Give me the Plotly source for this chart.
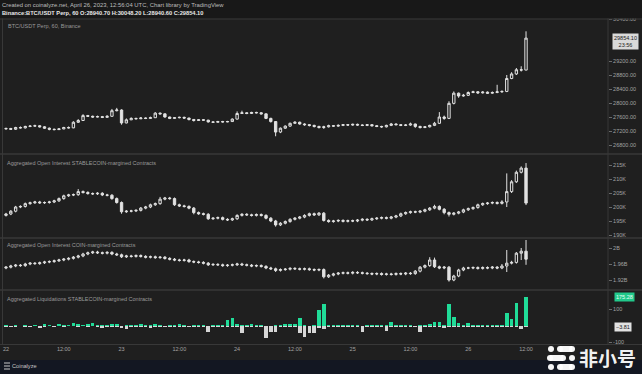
import plotly.graph_objects as go
import pandas as pd

# ---------------- data ----------------
TIMES = pd.date_range("2023-04-22 00:00", periods=109, freq="h")

PRICE_OPEN = [27260, 27270, 27250, 27300, 27290, 27330, 27340, 27350, 27320, 27280,
              27250, 27240, 27260, 27300, 27290, 27450, 27500, 27640, 27620, 27600,
              27610, 27590, 27620, 27780, 27800, 27430, 27520, 27560, 27550, 27570,
              27560, 27580, 27710, 27690, 27600, 27560, 27580, 27590, 27570, 27530,
              27500, 27520, 27510, 27460, 27450, 27470, 27460, 27470, 27540, 27700,
              27720, 27700, 27730, 27720, 27690, 27560, 27470, 27170, 27280, 27340,
              27420, 27450, 27400, 27380, 27360, 27330, 27300, 27320, 27350, 27340,
              27360, 27380, 27370, 27390, 27370, 27360, 27380, 27350, 27330, 27320,
              27360, 27400, 27380, 27360, 27370, 27400, 27330, 27300, 27320, 27360,
              27420, 27600, 27560, 27990, 28280, 28200, 28220, 28300, 28320, 28290,
              28310, 28280, 28300, 28320, 28330, 28700, 28830, 28950, 28940.7]
PRICE_HIGH = [27300, 27290, 27320, 27330, 27350, 27370, 27380, 27370, 27340, 27300,
              27270, 27280, 27320, 27330, 27480, 27540, 27680, 27660, 27640, 27640,
              27630, 27650, 27830, 27860, 27820, 27560, 27590, 27580, 27600, 27590,
              27610, 27740, 27730, 27700, 27610, 27600, 27610, 27610, 27580, 27540,
              27540, 27540, 27520, 27480, 27490, 27490, 27490, 27560, 27760, 27780,
              27740, 27750, 27750, 27740, 27700, 27580, 27480, 27300, 27360, 27440,
              27480, 27470, 27420, 27400, 27380, 27350, 27350, 27380, 27370, 27390,
              27400, 27400, 27410, 27410, 27390, 27400, 27400, 27370, 27350, 27380,
              27430, 27420, 27400, 27400, 27440, 27410, 27350, 27340, 27380, 27460,
              27740, 27640, 28050, 28330, 28300, 28260, 28330, 28350, 28340, 28340,
              28330, 28330, 28520, 28360, 28800, 28880, 29000, 29050, 30048.2]
PRICE_LOW = [27240, 27230, 27230, 27270, 27270, 27310, 27320, 27300, 27260, 27220,
             27220, 27230, 27250, 27270, 27280, 27430, 27490, 27600, 27580, 27590,
             27570, 27580, 27610, 27760, 27380, 27420, 27510, 27530, 27540, 27540,
             27550, 27570, 27670, 27580, 27540, 27550, 27560, 27550, 27500, 27470,
             27490, 27490, 27440, 27430, 27440, 27440, 27450, 27460, 27530, 27690,
             27680, 27690, 27700, 27670, 27540, 27440, 27050, 27140, 27260, 27320,
             27400, 27380, 27350, 27330, 27300, 27270, 27260, 27300, 27320, 27320,
             27340, 27350, 27350, 27350, 27340, 27340, 27330, 27310, 27290, 27300,
             27340, 27360, 27340, 27340, 27350, 27290, 27270, 27280, 27300, 27340,
             27400, 27520, 27540, 27960, 28150, 28180, 28200, 28280, 28260, 28270,
             28260, 28260, 28280, 28290, 28310, 28680, 28800, 28900, 28940.6]
PRICE_CLOSE = [27270, 27250, 27300, 27290, 27330, 27340, 27350, 27320, 27280, 27250,
               27240, 27260, 27300, 27290, 27450, 27500, 27640, 27620, 27600, 27610,
               27590, 27620, 27780, 27800, 27430, 27520, 27560, 27550, 27570, 27560,
               27580, 27710, 27690, 27600, 27560, 27580, 27590, 27570, 27530, 27500,
               27520, 27510, 27460, 27450, 27470, 27460, 27470, 27540, 27700, 27720,
               27700, 27730, 27720, 27690, 27560, 27470, 27170, 27280, 27340, 27420,
               27450, 27400, 27380, 27360, 27330, 27300, 27320, 27350, 27340, 27360,
               27380, 27370, 27390, 27370, 27360, 27380, 27350, 27330, 27320, 27360,
               27400, 27380, 27360, 27370, 27400, 27330, 27300, 27320, 27360, 27420,
               27600, 27560, 27990, 28280, 28200, 28220, 28300, 28320, 28290, 28310,
               28280, 28300, 28320, 28330, 28700, 28830, 28950, 28940.7, 29854.1]

# Aggregated OI, stablecoin-margined (thousands)
OIS_OPEN = [197.0, 197.5, 198.5, 200.0, 200.2, 201.2, 201.5, 201.8, 201.5, 201.6,
            201.8, 202.2, 203.0, 204.0, 204.3, 204.4, 205.5, 205.2, 204.8, 204.7,
            204.9, 204.3, 204.2, 203.0, 201.6, 198.3, 198.5, 198.6, 198.8, 199.6,
            200.0, 200.8, 201.2, 202.8, 203.2, 203.0, 200.8, 200.4, 200.2, 199.6,
            198.0, 197.6, 197.4, 195.8, 196.0, 196.2, 195.6, 195.4, 195.8, 197.0,
            197.4, 197.2, 197.0, 197.3, 197.0, 196.0, 195.0, 193.6, 194.2, 194.8,
            195.6, 196.0, 196.4, 197.0, 197.6, 197.2, 197.8, 195.2, 194.8, 195.0,
            195.2, 194.9, 195.1, 195.0, 195.3, 195.6, 195.4, 195.8, 196.0, 196.2,
            196.0, 196.4, 196.8, 197.6, 198.0, 198.3, 198.2, 198.5, 199.0, 199.6,
            200.2, 199.2, 198.0, 197.4, 197.8, 198.2, 199.0, 199.4, 199.8, 200.8,
            201.2, 201.4, 201.6, 201.3, 201.8, 205.5, 209.0, 212.4, 213.9]
OIS_HIGH = [197.9, 198.9, 200.4, 200.6, 201.6, 201.9, 202.2, 202.2, 202.0, 202.2,
            202.6, 203.4, 204.4, 204.7, 204.8, 206.4, 205.9, 205.6, 205.2, 205.3,
            205.3, 204.7, 204.6, 203.4, 202.0, 198.9, 199.0, 199.2, 200.0, 200.4,
            201.2, 201.6, 203.6, 203.6, 203.6, 203.4, 201.2, 200.8, 200.6, 200.0,
            198.4, 198.0, 197.8, 196.4, 196.6, 196.6, 196.0, 196.2, 197.4, 197.8,
            197.8, 197.6, 197.7, 197.7, 197.4, 196.4, 195.4, 194.6, 195.2, 196.0,
            196.4, 196.8, 197.4, 198.0, 198.0, 198.2, 198.2, 195.6, 195.4, 195.6,
            195.6, 195.5, 195.5, 195.7, 196.0, 196.0, 196.2, 196.4, 196.6, 196.6,
            196.8, 197.2, 198.0, 198.4, 198.7, 198.7, 198.9, 199.4, 200.0, 200.8,
            200.6, 199.6, 198.4, 198.2, 198.6, 199.4, 199.8, 200.2, 201.2, 201.6,
            201.8, 202.0, 202.0, 202.4, 212.0, 209.6, 213.0, 214.5, 215.7]
OIS_LOW = [196.6, 197.1, 198.1, 199.6, 199.8, 200.8, 201.1, 201.1, 201.1, 201.2,
           201.4, 201.8, 202.6, 203.6, 203.9, 204.0, 204.8, 204.4, 204.3, 204.3,
           203.9, 203.8, 202.6, 201.2, 197.6, 197.9, 198.1, 198.2, 198.4, 199.2,
           199.6, 200.4, 200.8, 202.4, 202.6, 200.4, 200.0, 199.8, 199.2, 197.4,
           197.2, 197.0, 195.4, 195.4, 195.6, 195.2, 195.0, 195.0, 195.4, 196.6,
           196.8, 196.6, 196.6, 196.6, 195.6, 194.6, 193.0, 193.2, 193.8, 194.4,
           195.2, 195.6, 196.0, 196.6, 196.8, 196.8, 194.8, 194.4, 194.4, 194.6,
           194.5, 194.5, 194.6, 194.6, 194.9, 195.0, 195.0, 195.4, 195.6, 195.6,
           195.6, 196.0, 196.4, 197.2, 197.6, 197.8, 197.8, 198.1, 198.6, 199.2,
           198.8, 197.4, 196.6, 197.0, 197.4, 197.8, 198.6, 199.0, 199.4, 200.4,
           200.8, 201.0, 200.9, 200.9, 200.0, 205.0, 208.6, 212.0, 200.7]
OIS_CLOSE = [197.5, 198.5, 200.0, 200.2, 201.2, 201.5, 201.8, 201.5, 201.6, 201.8,
             202.2, 203.0, 204.0, 204.3, 204.4, 205.5, 205.2, 204.8, 204.7, 204.9,
             204.3, 204.2, 203.0, 201.6, 198.3, 198.5, 198.6, 198.8, 199.6, 200.0,
             200.8, 201.2, 202.8, 203.2, 203.0, 200.8, 200.4, 200.2, 199.6, 198.0,
             197.6, 197.4, 195.8, 196.0, 196.2, 195.6, 195.4, 195.8, 197.0, 197.4,
             197.2, 197.0, 197.3, 197.0, 196.0, 195.0, 193.6, 194.2, 194.8, 195.6,
             196.0, 196.4, 197.0, 197.6, 197.2, 197.8, 195.2, 194.8, 195.0, 195.2,
             194.9, 195.1, 195.0, 195.3, 195.6, 195.4, 195.8, 196.0, 196.2, 196.0,
             196.4, 196.8, 197.6, 198.0, 198.3, 198.2, 198.5, 199.0, 199.6, 200.2,
             199.2, 198.0, 197.4, 197.8, 198.2, 199.0, 199.4, 199.8, 200.8, 201.2,
             201.4, 201.6, 201.3, 201.8, 205.5, 209.0, 212.4, 213.9, 201.4]

# Aggregated OI, coin-margined (billions)
OIC_OPEN = [1.950, 1.952, 1.955, 1.957, 1.956, 1.960, 1.962, 1.961, 1.963, 1.965,
            1.966, 1.968, 1.970, 1.972, 1.974, 1.977, 1.980, 1.985, 1.988, 1.990,
            1.988, 1.987, 1.989, 1.985, 1.983, 1.978, 1.980, 1.979, 1.981, 1.979,
            1.977, 1.978, 1.976, 1.977, 1.974, 1.972, 1.970, 1.969, 1.970, 1.966,
            1.965, 1.964, 1.962, 1.958, 1.959, 1.958, 1.956, 1.957, 1.958, 1.960,
            1.958, 1.957, 1.955, 1.956, 1.954, 1.950, 1.948, 1.944, 1.946, 1.947,
            1.949, 1.948, 1.947, 1.948, 1.946, 1.945, 1.946, 1.928, 1.932, 1.935,
            1.937, 1.938, 1.937, 1.939, 1.938, 1.937, 1.936, 1.935, 1.936, 1.934,
            1.935, 1.934, 1.936, 1.935, 1.937, 1.936, 1.942, 1.952, 1.956, 1.970,
            1.953, 1.950, 1.952, 1.920, 1.930, 1.945, 1.950, 1.950, 1.951, 1.949,
            1.951, 1.950, 1.952, 1.950, 1.955, 1.962, 1.964, 1.987, 1.992]
OIC_HIGH = [1.955, 1.958, 1.960, 1.960, 1.963, 1.965, 1.965, 1.966, 1.968, 1.969,
            1.971, 1.973, 1.975, 1.977, 1.980, 1.983, 1.988, 1.991, 1.993, 1.993,
            1.991, 1.992, 1.992, 1.988, 1.986, 1.983, 1.983, 1.984, 1.984, 1.982,
            1.981, 1.981, 1.980, 1.980, 1.977, 1.975, 1.973, 1.973, 1.973, 1.969,
            1.968, 1.967, 1.965, 1.962, 1.962, 1.961, 1.960, 1.961, 1.963, 1.963,
            1.961, 1.960, 1.959, 1.959, 1.957, 1.953, 1.951, 1.949, 1.950, 1.952,
            1.952, 1.951, 1.951, 1.951, 1.949, 1.949, 1.949, 1.935, 1.938, 1.940,
            1.941, 1.941, 1.942, 1.942, 1.941, 1.940, 1.939, 1.939, 1.939, 1.938,
            1.938, 1.939, 1.939, 1.940, 1.940, 1.945, 1.955, 1.959, 1.977, 1.976,
            1.956, 1.955, 1.955, 1.933, 1.948, 1.953, 1.953, 1.954, 1.954, 1.954,
            1.954, 1.955, 1.955, 1.960, 1.995, 1.968, 1.990, 2.000, 2.020]
OIC_LOW = [1.947, 1.949, 1.952, 1.953, 1.953, 1.957, 1.958, 1.958, 1.960, 1.962,
           1.963, 1.965, 1.967, 1.969, 1.971, 1.974, 1.977, 1.982, 1.985, 1.985,
           1.984, 1.984, 1.982, 1.980, 1.975, 1.975, 1.976, 1.976, 1.976, 1.974,
           1.974, 1.973, 1.973, 1.971, 1.969, 1.967, 1.966, 1.966, 1.963, 1.962,
           1.961, 1.959, 1.955, 1.955, 1.955, 1.953, 1.953, 1.954, 1.955, 1.955,
           1.954, 1.952, 1.952, 1.951, 1.947, 1.945, 1.940, 1.941, 1.943, 1.944,
           1.945, 1.944, 1.944, 1.943, 1.942, 1.942, 1.924, 1.925, 1.929, 1.932,
           1.934, 1.934, 1.934, 1.935, 1.934, 1.933, 1.932, 1.932, 1.931, 1.931,
           1.931, 1.931, 1.932, 1.932, 1.933, 1.933, 1.939, 1.949, 1.953, 1.950,
           1.947, 1.947, 1.916, 1.917, 1.927, 1.942, 1.947, 1.947, 1.946, 1.946,
           1.947, 1.947, 1.947, 1.947, 1.940, 1.959, 1.961, 1.970, 1.958]
OIC_CLOSE = [1.952, 1.955, 1.957, 1.956, 1.960, 1.962, 1.961, 1.963, 1.965, 1.966,
             1.968, 1.970, 1.972, 1.974, 1.977, 1.980, 1.985, 1.988, 1.990, 1.988,
             1.987, 1.989, 1.985, 1.983, 1.978, 1.980, 1.979, 1.981, 1.979, 1.977,
             1.978, 1.976, 1.977, 1.974, 1.972, 1.970, 1.969, 1.970, 1.966, 1.965,
             1.964, 1.962, 1.958, 1.959, 1.958, 1.956, 1.957, 1.958, 1.960, 1.958,
             1.957, 1.955, 1.956, 1.954, 1.950, 1.948, 1.944, 1.946, 1.947, 1.949,
             1.948, 1.947, 1.948, 1.946, 1.945, 1.946, 1.928, 1.932, 1.935, 1.937,
             1.938, 1.937, 1.939, 1.938, 1.937, 1.936, 1.935, 1.936, 1.934, 1.935,
             1.934, 1.936, 1.935, 1.937, 1.936, 1.942, 1.952, 1.956, 1.970, 1.953,
             1.950, 1.952, 1.920, 1.930, 1.945, 1.950, 1.950, 1.951, 1.949, 1.951,
             1.950, 1.952, 1.950, 1.955, 1.962, 1.964, 1.987, 1.992, 1.972]

# Aggregated liquidations (positive = green bars, negative = grey bars)
LIQ_GREEN = [3, 0, 2, 0, 4, 0, 2, 0, 12, 3,
             0, 8, 2, 4, 18, 14, 6, 10, 16, 4,
             2, 3, 12, 8, 0, 2, 3, 2, 14, 2,
             3, 10, 4, 0, 2, 3, 8, 2, 0, 2,
             3, 2, 0, 4, 6, 2, 36, 48, 10, 5,
             4, 8, 6, 2, 0, 0, 2, 6, 8, 12,
             10, 48, 4, 0, 4, 97, 133, 6, 4, 5,
             3, 2, 4, 2, 0, 3, 2, 4, 2, 3,
             24, 3, 4, 6, 4, 0, 2, 3, 8, 24,
             24, 4, 133, 55, 20, 6, 18, 4, 2, 3,
             2, 3, 4, 6, 79, 42, 139, 0, 175.28]
LIQ_GREY = [-4, -6, -2, 0, -3, -2, 0, -8, -2, 0,
            -3, 0, -2, 0, 0, -2, 0, -3, 0, -2,
            -10, -4, -6, -3, -14, -16, -4, -3, -2, -5,
            -8, -2, -3, -6, -4, -2, -3, -2, -5, -3,
            -2, -4, -36, -6, -3, -4, -2, -3, -2, -42,
            -4, -3, -2, -6, -72, -36, -36, -4, -3, -2,
            -4, -42, -66, -42, -42, -10, -20, -4, -3, -2,
            -4, -3, -6, -2, -34, -3, -2, -4, -3, -30,
            -4, -2, -3, -6, -2, -4, -36, -4, -3, -6,
            -4, -12, -5, -3, -2, -4, -3, -2, -3, -2,
            -3, -2, -4, -3, -2, -5, -4, -18, -3.81]

PRICE_TICKS = [26800, 27200, 27600, 28000, 28400, 28800, 29200, 30400]
OIS_TICKS = [190, 195, 200, 205, 210, 215]
OIC_TICKS = [1.92, 1.96, 2.00]
OIC_TICKTEXT = ["1.92B", "1.96B", "2B"]
LIQ_TICKS = [-100, 100]
X_TICKS = ["2023-04-22 00:00", "2023-04-22 12:00", "2023-04-23 00:00", "2023-04-23 12:00",
           "2023-04-24 00:00", "2023-04-24 12:00", "2023-04-25 00:00", "2023-04-25 12:00",
           "2023-04-26 00:00", "2023-04-26 12:00"]
X_TICKTEXT = ["22", "12:00", "23", "12:00", "24", "12:00", "25", "12:00", "26", "12:00"]

for arr in [PRICE_OPEN, PRICE_HIGH, PRICE_LOW, PRICE_CLOSE, OIS_OPEN, OIS_HIGH, OIS_LOW,
            OIS_CLOSE, OIC_OPEN, OIC_HIGH, OIC_LOW, OIC_CLOSE, LIQ_GREEN, LIQ_GREY]:
    assert len(arr) == 109, len(arr)

# ---------------- geometry helpers ----------------
W, H = 642, 374
ML, MR, MT, MB = 3, 34, 19, 30
PW, PH = W - ML - MR, H - MT - MB
BOTTOM = H - MB


def fx(p):
    return (p - ML) / PW


def fy(p):
    return (BOTTOM - p) / PH


BG = "#1f1f1f"
CANDLE = "#e2e2e2"
GREEN = "#20dc98"
GREY = "#d6d6d6"
TXT = "#a3a3a3"
FONT = "Liberation Sans"

fig = go.Figure()


def candles(o, h, l, c, yaxis):
    return go.Candlestick(
        x=TIMES, open=o, high=h, low=l, close=c, xaxis="x", yaxis=yaxis,
        increasing=dict(line=dict(color=CANDLE, width=1), fillcolor=BG),
        decreasing=dict(line=dict(color=CANDLE, width=1), fillcolor=CANDLE),
        whiskerwidth=0, showlegend=False, hoverinfo="skip")


fig.add_trace(candles(PRICE_OPEN, PRICE_HIGH, PRICE_LOW, PRICE_CLOSE, "y"))
fig.add_trace(candles(OIS_OPEN, OIS_HIGH, OIS_LOW, OIS_CLOSE, "y2"))
fig.add_trace(candles(OIC_OPEN, OIC_HIGH, OIC_LOW, OIC_CLOSE, "y3"))
fig.add_trace(go.Bar(x=TIMES, y=LIQ_GREEN, xaxis="x", yaxis="y4", marker=dict(color=GREEN, line=dict(width=0)),
                     width=2.7e6, showlegend=False, hoverinfo="skip"))
fig.add_trace(go.Bar(x=TIMES, y=LIQ_GREY, xaxis="x", yaxis="y4", marker=dict(color=GREY, line=dict(width=0)),
                     width=2.7e6, showlegend=False, hoverinfo="skip"))

x_start = pd.Timestamp("2023-04-22 00:00") - pd.Timedelta(hours=(6 - ML) / 4.815)
x_end = pd.Timestamp("2023-04-22 00:00") + pd.Timedelta(hours=(ML + PW - 6) / 4.815)

yax_common = dict(side="right", anchor="x", showgrid=False, zeroline=False, ticks="outside",
                  ticklen=3, tickcolor="#6a6a6a", tickfont=dict(size=5.5, color=TXT, family=FONT),
                  fixedrange=True, showline=False)

fig.update_layout(
    width=W, height=H, margin=dict(l=ML, r=MR, t=MT, b=MB),
    paper_bgcolor=BG, plot_bgcolor=BG, barmode="relative", bargap=0,
    font=dict(family=FONT, color=TXT),
    xaxis=dict(domain=[0, 1], anchor="y4", type="date", range=[x_start, x_end],
               tickvals=X_TICKS, ticktext=X_TICKTEXT, showgrid=False, zeroline=False,
               ticks="", tickfont=dict(size=5.5, color=TXT, family=FONT),
               rangeslider=dict(visible=False), showline=False, fixedrange=True),
    yaxis=dict(domain=[fy(153), 1], range=[26571.4, 30400], tickvals=PRICE_TICKS,
               ticktext=[f"{v:.2f}" for v in PRICE_TICKS], **yax_common),
    yaxis2=dict(domain=[fy(237), fy(155)], range=[189.29, 218.57], tickvals=OIS_TICKS,
                ticktext=[f"{v}K" for v in OIS_TICKS], **yax_common),
    yaxis3=dict(domain=[fy(289), fy(239)], range=[1.8975, 2.0225], tickvals=OIC_TICKS,
                ticktext=OIC_TICKTEXT, **yax_common),
    yaxis4=dict(domain=[0, fy(291)], range=[-108.8, 211.5], tickvals=LIQ_TICKS,
                ticktext=[str(v) for v in LIQ_TICKS], **yax_common),
)

shapes = []
# header band (drawn above to clip the top price label like the original)
shapes.append(dict(type="rect", xref="paper", yref="paper", x0=fx(-2), x1=fx(W + 2), y0=fy(-2), y1=fy(18.5),
                   fillcolor="#181818", line=dict(width=0), layer="above"))
# footer band
shapes.append(dict(type="rect", xref="paper", yref="paper", x0=fx(-2), x1=fx(W + 2), y0=fy(360), y1=fy(H + 2),
                   fillcolor="#131722", line=dict(width=0), layer="above"))
# panel separators
for yy in [154, 238, 290]:
    shapes.append(dict(type="line", xref="paper", yref="paper", x0=fx(0), x1=fx(W), y0=fy(yy), y1=fy(yy),
                       line=dict(color="#383838", width=1.5), layer="above"))
# outer frame lines
shapes.append(dict(type="line", xref="paper", yref="paper", x0=fx(0), x1=fx(W), y0=fy(344.5), y1=fy(344.5),
                   line=dict(color="#383838", width=1), layer="above"))
shapes.append(dict(type="line", xref="paper", yref="paper", x0=1, x1=1, y0=fy(344.5), y1=fy(18.5),
                   line=dict(color="#383838", width=1), layer="above"))
shapes.append(dict(type="line", xref="paper", yref="paper", x0=fx(2.5), x1=fx(2.5), y0=fy(344.5), y1=fy(18.5),
                   line=dict(color="#383838", width=1), layer="above"))
shapes.append(dict(type="line", xref="paper", yref="paper", x0=fx(0), x1=fx(W), y0=fy(19), y1=fy(19),
                   line=dict(color="#383838", width=1), layer="above"))

# watermark logo (dots + bars)
WM = "rgba(255,255,255,0.96)"
for (dot_x, bar_x0, bar_x1, yc) in [(551, 557, 575, 349), (572, 547, 566, 358), (551, 557, 575, 367)]:
    shapes.append(dict(type="circle", xref="paper", yref="paper", x0=fx(dot_x - 3), x1=fx(dot_x + 3),
                       y0=fy(yc + 3), y1=fy(yc - 3), fillcolor=WM, line=dict(width=0), layer="above"))
    shapes.append(dict(type="rect", xref="paper", yref="paper", x0=fx(bar_x0 + 3), x1=fx(bar_x1 - 3),
                       y0=fy(yc + 3), y1=fy(yc - 3), fillcolor=WM, line=dict(width=0), layer="above"))
    for cx in (bar_x0 + 3, bar_x1 - 3):
        shapes.append(dict(type="circle", xref="paper", yref="paper", x0=fx(cx - 3), x1=fx(cx + 3),
                           y0=fy(yc + 3), y1=fy(yc - 3), fillcolor=WM, line=dict(width=0), layer="above"))
# coinalyze icon
for yy in [363, 366, 369]:
    shapes.append(dict(type="line", xref="paper", yref="paper", x0=fx(4), x1=fx(10), y0=fy(yy), y1=fy(yy),
                       line=dict(color="#c8c8c8", width=1), layer="above"))
fig.update_layout(shapes=shapes)

ann = []


def text(t, x, y, size=5.5, color=TXT, xanchor="left", bg=None, fcolor=None, family=FONT):
    d = dict(text=t, x=fx(x), y=fy(y), xref="paper", yref="paper", xanchor=xanchor, yanchor="middle",
             showarrow=False, font=dict(size=size, color=color if fcolor is None else fcolor, family=family),
             borderpad=0)
    if bg:
        d["bgcolor"] = bg
        d["borderpad"] = 1
    ann.append(d)


text("Created on coinalyze.net, April 26, 2023, 12:56:04 UTC, Chart library by TradingView", 1, 5,
     size=5.9, color="#bdbdbd")
text("<b>Binance:BTC/USDT Perp, 60 O:28940.70 H:30048.20 L:28940.60 C:29854.10</b>", 1, 13,
     size=5.7, color="#e8e8e8")
text("BTC/USDT Perp, 60, Binance", 7, 26, color="#9a9a9a")
text("Aggregated Open Interest STABLECOIN-margined Contracts", 6, 163, color="#9a9a9a")
text("Aggregated Open Interest COIN-margined Contracts", 6, 245, color="#9a9a9a")
text("Aggregated Liquidations STABLECOIN-margined Contracts", 6, 299, color="#9a9a9a")
# last-value labels on the scales
text("29854.10<br>23:56", 625, 41.5, xanchor="center", bg="#d9d9d9", fcolor="#1a1a1a")
text("175.28", 624, 297, xanchor="center", bg="#22c98b", fcolor="#eafff6")
text("−3.81", 623, 326.6, xanchor="center", bg="#e2e2e2", fcolor="#1a1a1a")
# footer
text("Coinalyze", 11, 366, size=5.6, color="#c8c8c8")
text("<b>非小号</b>", 607, 357, size=19, color="rgba(255,255,255,0.96)", xanchor="center",
     family="Noto Sans CJK SC")
fig.update_layout(annotations=ann)

fig.write_html("out.html")
